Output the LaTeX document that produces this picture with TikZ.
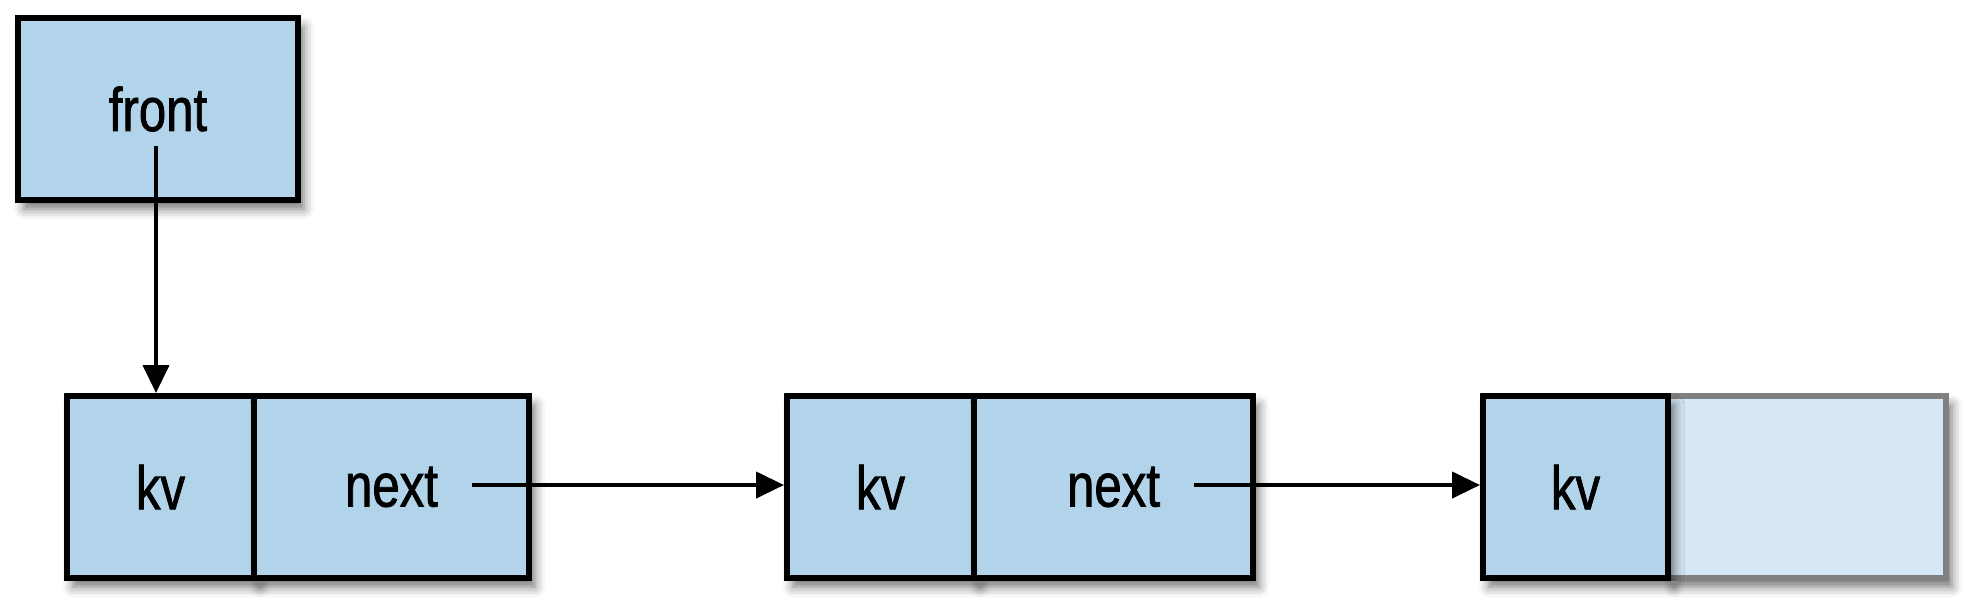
\documentclass[tikz,border=0pt]{standalone}
\usepackage{fontspec}
\setmainfont[FakeStretch=0.8,FakeBold=1.2]{Liberation Sans}
\usetikzlibrary{arrows.meta,shadows.blur}
\definecolor{cellblue}{RGB}{178,212,234}
\definecolor{cellfade}{RGB}{214,231,245}
\definecolor{fadeline}{RGB}{128,128,128}
\begin{document}
\begin{tikzpicture}[>={Triangle[length=0.28cm,width=0.26cm]}]
        \tikzstyle{cell}=[draw,line width=1.7pt,fill=cellblue,
            minimum height=1.82cm,inner sep=0pt,
            font=\fontsize{17.5pt}{20pt}\selectfont,
            blur shadow={shadow xshift=0.06cm,shadow yshift=-0.09cm,shadow opacity=55,shadow blur radius=0.1cm}]
        \tikzstyle{faded}=[cell,draw=fadeline,fill=cellfade]
        \tikzstyle{link}=[->,line width=1.2pt]

        \useasboundingbox (0,0) rectangle (19.84,6.14);

        \node[cell,minimum width=2.8cm](front) at (1.58,5.05){front};

        \node[cell,minimum width=1.87cm](kv1) at (1.605,1.27){kv};
        \node[cell,minimum width=2.75cm](next1) at (3.915,1.27){next};

        \node[cell,minimum width=1.87cm](kv2) at (8.805,1.27){kv};
        \node[cell,minimum width=2.79cm](next2) at (11.135,1.27){next};

        \node[faded,minimum width=2.78cm](empty3) at (18.07,1.27){};
        \node[cell,minimum width=1.85cm](kv3) at (15.755,1.27){kv};

        \coordinate (fptr) at ([xshift=-0.02cm,yshift=-0.15cm]front.base);
        \coordinate (nptr1) at ([xshift=0.8cm,yshift=0.02cm]next1.center);
        \coordinate (nptr2) at ([xshift=0.8cm,yshift=0.02cm]next2.center);

        \draw[link] (fptr) -- (fptr |- kv1.north);
        \draw[link] (nptr1) -- (nptr1 -| kv2.west);
        \draw[link] (nptr2) -- (nptr2 -| kv3.west);

    \end{tikzpicture}
\end{document}
